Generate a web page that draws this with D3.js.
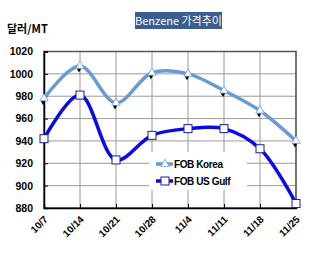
<!DOCTYPE html>
<html><head><meta charset="utf-8">
<script src="https://cdn.jsdelivr.net/npm/d3@7/dist/d3.min.js"></script>
<style>
html,body{margin:0;padding:0;background:#fff;}
svg{display:block;font-family:"Liberation Sans",Arial,sans-serif;}
</style></head>
<body><svg id="c" width="331" height="259"></svg>
<script>
const categories = ["10/7","10/14","10/21","10/28","11/4","11/11","11/18","11/25"];
const fobKorea = [978, 1007, 974, 1001, 1000, 985, 967, 940];
const fobUSGulf = [942, 981, 923, 945, 951, 951, 933, 884];
const yTicks = [880, 900, 920, 940, 960, 980, 1000, 1020];
const seriesNames = ["FOB Korea", "FOB US Gulf"];

const svg = d3.select("#c");
const L = 44, R = 296, T = 51.5, B = 208;
const x = d3.scalePoint().domain(categories).range([L, R]);
const y = d3.scaleLinear().domain([880, 1020]).range([B, T]);

// gridlines
const g = svg.append("g");
g.selectAll("line.h").data(yTicks).join("line")
  .attr("x1", L).attr("x2", R).attr("y1", d => y(d)).attr("y2", d => y(d))
  .attr("stroke", "#9a9a9a").attr("stroke-width", 1);
g.selectAll("line.v").data(categories).join("line")
  .attr("y1", T).attr("y2", B).attr("x1", d => x(d)).attr("x2", d => x(d))
  .attr("stroke", "#9a9a9a").attr("stroke-width", 1);

// frame
svg.append("rect").attr("x", L).attr("y", T).attr("width", R - L).attr("height", B - T)
  .attr("fill", "none").attr("stroke", "#555").attr("stroke-width", 1.5);

// y axis
const ya = svg.append("g").attr("transform", `translate(${L},0)`)
  .call(d3.axisLeft(y).tickValues(yTicks).tickSize(-4).tickPadding(11).tickFormat(d3.format("d")));
ya.select(".domain").attr("stroke", "#000").attr("stroke-width", 1.5);
ya.selectAll(".tick line").attr("stroke", "#000");
ya.selectAll("text").attr("font-size", 10.5).attr("font-weight", "bold").attr("fill", "#000")
  .attr("font-family", "Liberation Sans, Arial, sans-serif");

// x axis
const xa = svg.append("g").attr("transform", `translate(0,${B})`)
  .call(d3.axisBottom(x).tickSize(-4).tickPadding(0));
xa.select(".domain").attr("stroke", "#000").attr("stroke-width", 1.5);
xa.selectAll(".tick line").attr("stroke", "#000");
xa.selectAll("text").attr("font-size", 10).attr("font-weight", "bold").attr("fill", "#000")
  .attr("font-family", "Liberation Sans, Arial, sans-serif")
  .attr("text-anchor", "end").attr("dy", 0)
  .attr("transform", "translate(4,12) rotate(-45)");

// lines
const line = d3.line().x((d, i) => x(categories[i])).y(d => y(d)).curve(d3.curveCatmullRom.alpha(0.5));
svg.append("path").datum(fobKorea).attr("d", line).attr("fill", "none")
  .attr("stroke", "#6a9ad6").attr("stroke-width", 3.5);
svg.append("path").datum(fobUSGulf).attr("d", line).attr("fill", "none")
  .attr("stroke", "#0a0ae6").attr("stroke-width", 3.5);

// Korea markers: black small diamond + white triangle
const tri = d3.symbol().type(d3.symbolTriangle).size(30);
const dia = d3.symbol().type(d3.symbolDiamond).size(14);
svg.selectAll("path.kd").data(fobKorea).join("path")
  .attr("d", dia).attr("transform", (d, i) => `translate(${x(categories[i]) - 1},${y(d) + 3})`)
  .attr("fill", "#000");
svg.selectAll("path.kt").data(fobKorea).join("path")
  .attr("d", tri).attr("transform", (d, i) => `translate(${x(categories[i])},${y(d)})`)
  .attr("fill", "#fff").attr("stroke", "#6a9ad6").attr("stroke-width", 0.8);

// Gulf markers: white squares
svg.selectAll("rect.gs").data(fobUSGulf).join("rect")
  .attr("x", (d, i) => x(categories[i]) - 4).attr("y", d => y(d) - 4)
  .attr("width", 8).attr("height", 8)
  .attr("fill", "#fff").attr("stroke", "#1a1aa0").attr("stroke-width", 1);

// legend
const lg = svg.append("g");
lg.append("rect").attr("x", 149).attr("y", 152).attr("width", 98).attr("height", 38).attr("fill", "#fff");
const legColors = ["#6a9ad6", "#0a0ae6"];
seriesNames.forEach((n, i) => {
  const yy = 164 + i * 17;
  lg.append("line").attr("x1", 156).attr("x2", 173).attr("y1", yy).attr("y2", yy)
    .attr("stroke", legColors[i]).attr("stroke-width", 3.5);
  if (i === 0) {
    lg.append("path").attr("d", tri).attr("transform", `translate(165,${yy})`)
      .attr("fill", "#fff").attr("stroke", legColors[0]).attr("stroke-width", 0.8);
  } else {
    lg.append("rect").attr("x", 161).attr("y", yy - 4).attr("width", 8).attr("height", 8)
      .attr("fill", "#fff").attr("stroke", "#1a1aa0");
  }
  lg.append("text").attr("x", 174).attr("y", yy + 4).text(n)
    .attr("font-size", 10).attr("font-weight", "bold").attr("letter-spacing", "-0.4px");
});

// title
svg.append("rect").attr("x", 135).attr("y", 12).attr("width", 87).attr("height", 17).attr("fill", "#3b5d8f");
svg.append("text").attr("x", 178.5).attr("y", 24.5).attr("text-anchor", "middle")
  .attr("fill", "#fff").attr("font-size", 11)
  .attr("font-family", "'Noto Sans CJK KR','Liberation Sans',sans-serif")
  .text("Benzene 가격추이");

// unit label
svg.append("text").attr("x", 7).attr("y", 33).text("달러/MT")
  .attr("font-size", 11).attr("font-weight", "bold")
  .attr("font-family", "'Noto Sans CJK KR','Liberation Sans',sans-serif");
</script></body></html>
